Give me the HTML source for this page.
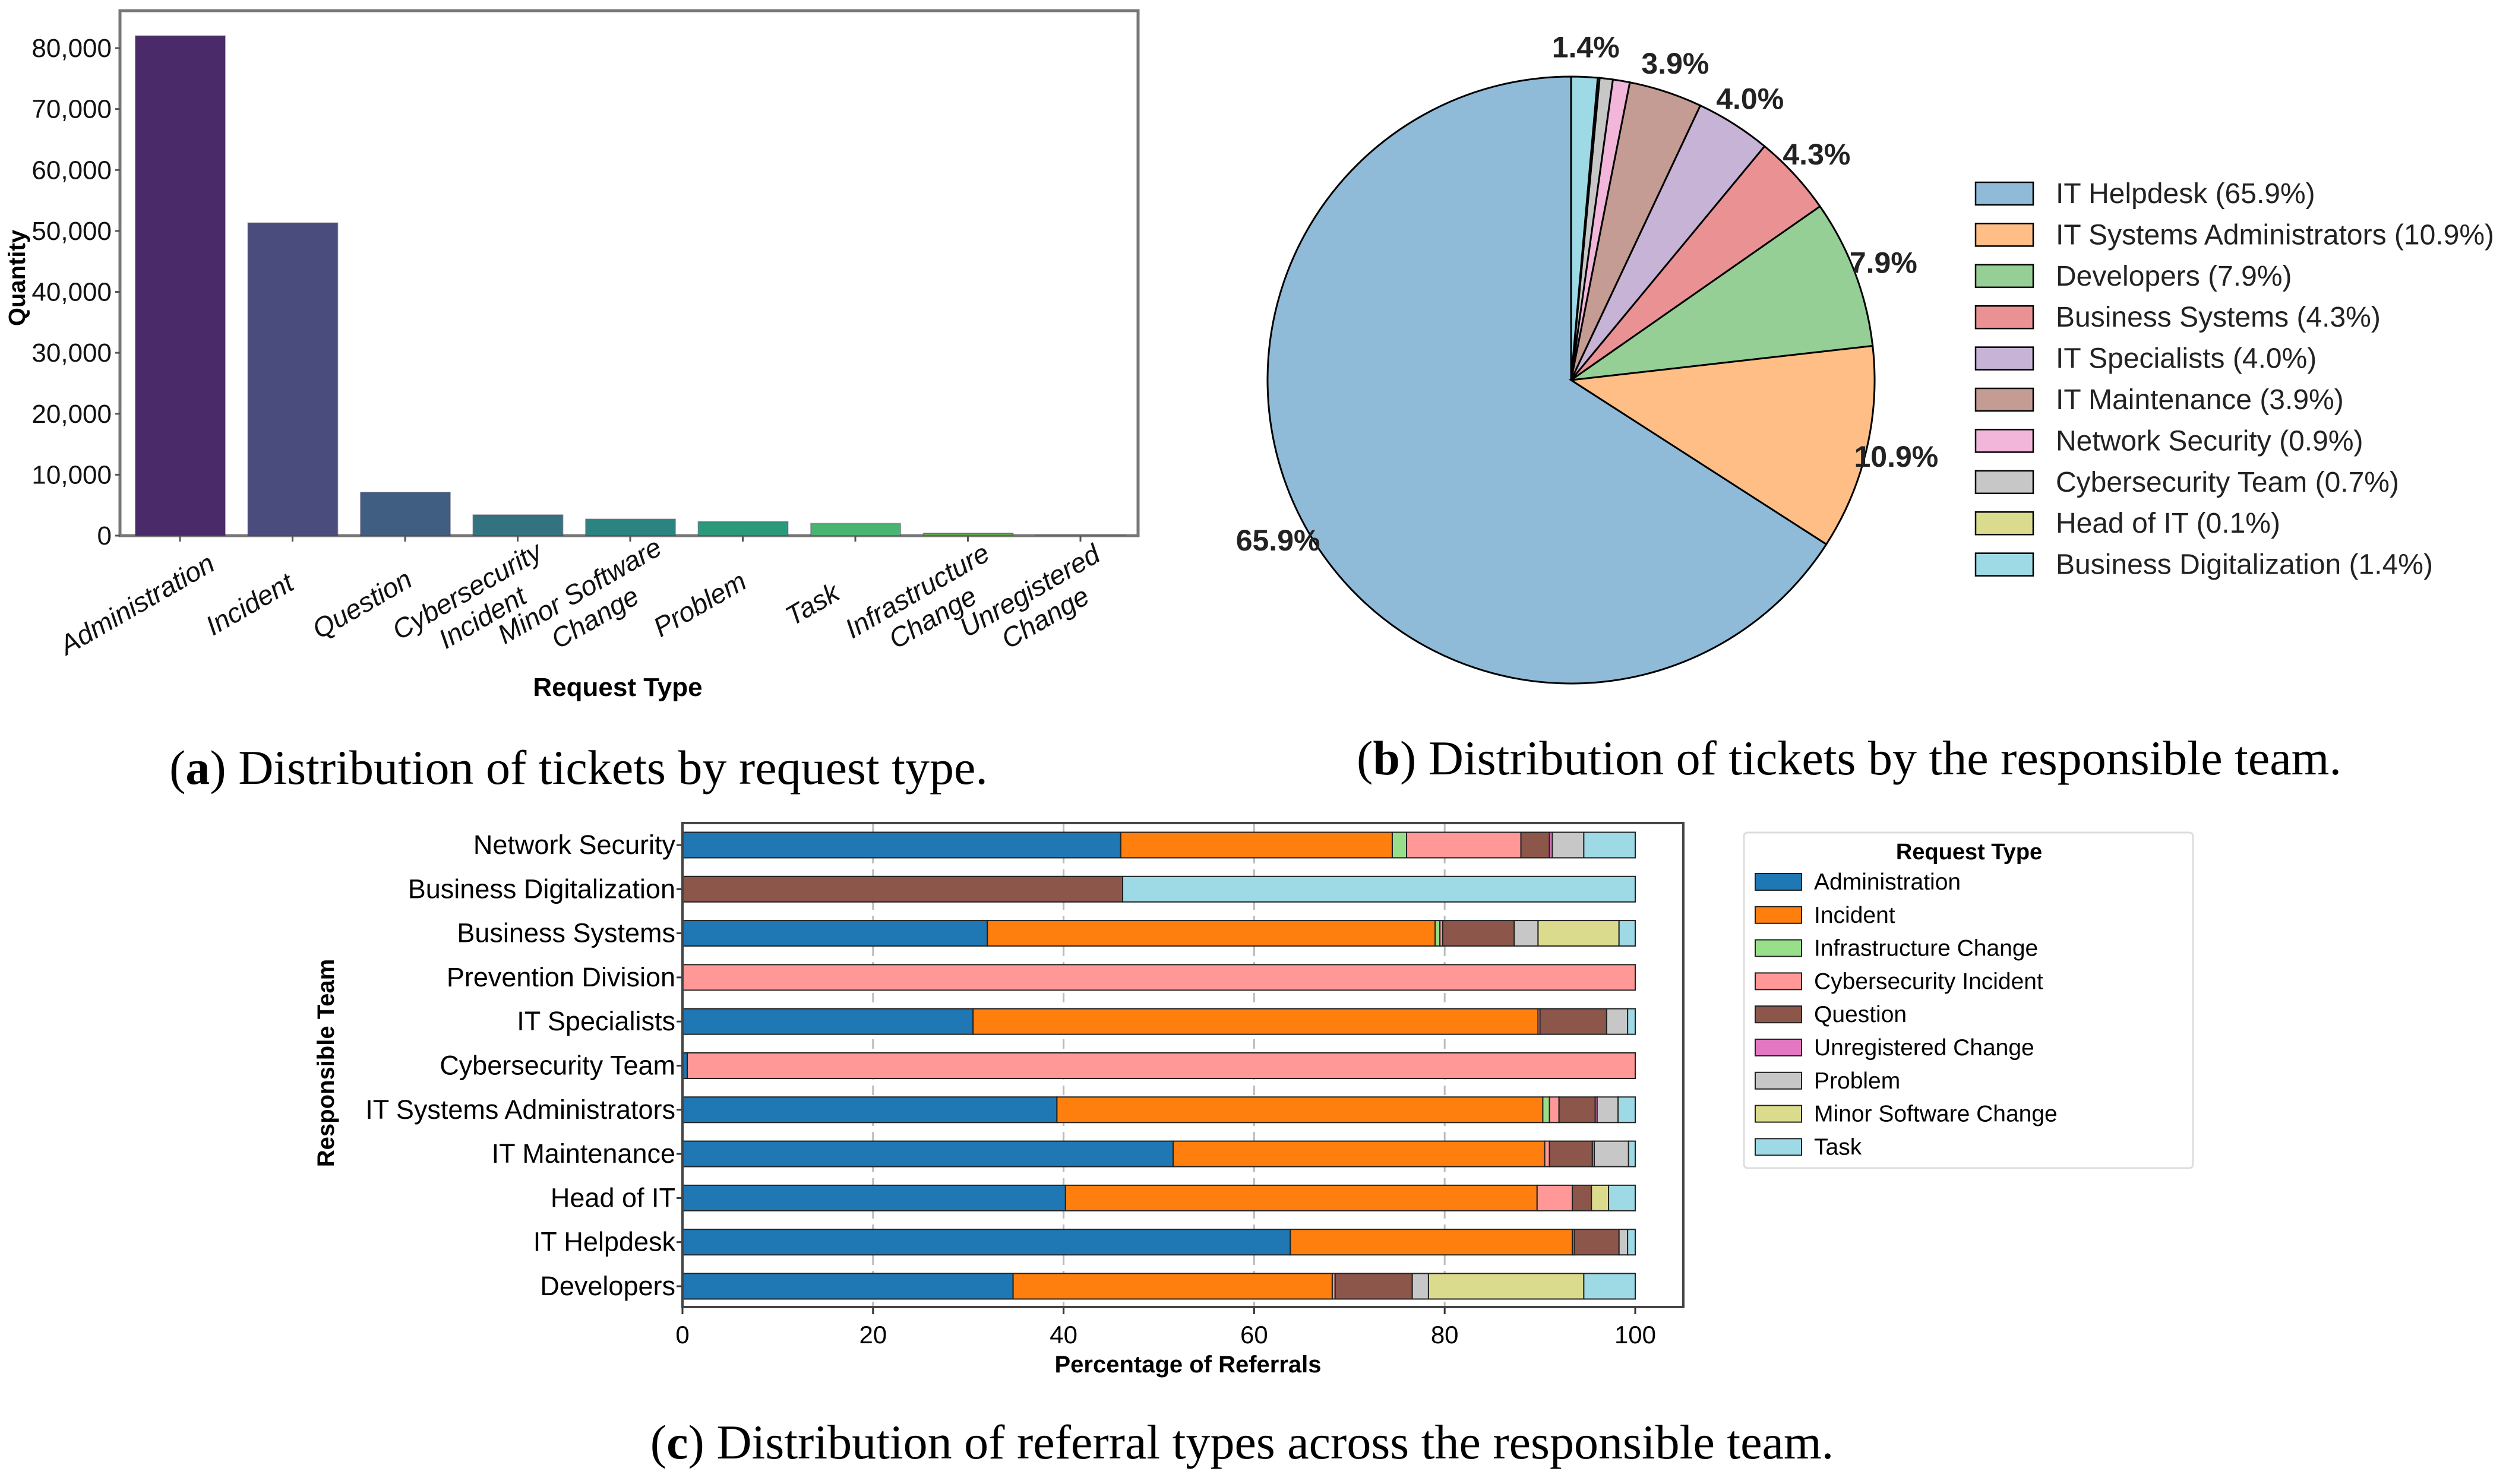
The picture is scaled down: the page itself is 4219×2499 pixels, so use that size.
<!DOCTYPE html>
<html><head><meta charset="utf-8"><style>
html,body{margin:0;padding:0;background:#fff}
svg{display:block}
.nar{font-family:"Liberation Sans Narrow","Liberation Sans",sans-serif}
.sans{font-family:"Liberation Sans",sans-serif}
.ser{font-family:"Liberation Serif",serif}
</style></head><body>
<svg id="svg" width="4219" height="2499" viewBox="0 0 4219 2499" xmlns="http://www.w3.org/2000/svg">
<g id="ga"></g>
<g id="gb"></g>
<g id="gc"></g>
<text class="ser" x="974" y="1320" font-size="82" text-anchor="middle">(<tspan font-weight="bold">a</tspan>) Distribution of tickets by request type.</text>
<text class="ser" x="3113" y="1304" font-size="82" text-anchor="middle">(<tspan font-weight="bold">b</tspan>) Distribution of tickets by the responsible team.</text>
<text class="ser" x="2091" y="2456" font-size="82" text-anchor="middle">(<tspan font-weight="bold">c</tspan>) Distribution of referral types across the responsible team.</text>
</svg>
<script>
// ---- Chart A data ----
const aCategories = [["Administration"],["Incident"],["Question"],["Cybersecurity","Incident"],["Minor Software","Change"],["Problem"],["Task"],["Infrastructure","Change"],["Unregistered","Change"]];
const aValues = [82000, 51300, 7100, 3400, 2700, 2300, 2000, 400, 50];
const aTicks = [0,10000,20000,30000,40000,50000,60000,70000,80000];
const aTickLabels = ["0","10,000","20,000","30,000","40,000","50,000","60,000","70,000","80,000"];
const aColors = ["#4a2a68","#4a4c7d","#3f5e82","#33737f","#2b8481","#2a9a7b","#49b571","#5aa83c","#7ac143"];
// ---- Chart B data ----
const bTeams = ["IT Helpdesk","IT Systems Administrators","Developers","Business Systems","IT Specialists","IT Maintenance","Network Security","Cybersecurity Team","Head of IT","Business Digitalization"];
const bShares = [65.9, 10.9, 7.9, 4.3, 4.0, 3.9, 0.9, 0.7, 0.1, 1.4];
const bColors = ["#8fbbd9","#ffbe86","#95cf95","#ea9293","#c6b3d6","#c49c94","#f1b6da","#c7c7c7","#dbdb8d","#9edae5"];
// ---- Chart C data ----
const cTeams = ["Network Security","Business Digitalization","Business Systems","Prevention Division","IT Specialists","Cybersecurity Team","IT Systems Administrators","IT Maintenance","Head of IT","IT Helpdesk","Developers"];
const cTypes = ["Administration","Incident","Infrastructure Change","Cybersecurity Incident","Question","Unregistered Change","Problem","Minor Software Change","Task"];
const cColors = ["#1f77b4","#ff7f0e","#98df8a","#ff9896","#8c564b","#e377c2","#c7c7c7","#dbdb8d","#9edae5"];
const cAdmin    = [46, 0, 32, 0, 30.5, 0.5, 39.3, 51.5, 40.2, 63.8, 34.7];
const cIncident = [28.5, 0, 47, 0, 59.3, 0, 51, 39, 49.5, 29.6, 33.5];
const cInfra    = [1.5, 0, 0.5, 0, 0, 0, 0.7, 0, 0, 0, 0];
const cCyber    = [12, 0, 0.3, 100, 0.2, 99.5, 1, 0.5, 3.7, 0.2, 0.3];
const cQuestion = [3, 46.2, 7.5, 0, 7, 0, 3.8, 4.5, 2, 4.7, 8.1];
const cUnreg    = [0.3, 0, 0, 0, 0, 0, 0.2, 0.2, 0, 0, 0];
const cProblem  = [3.3, 0, 2.5, 0, 2.2, 0, 2.2, 3.6, 0, 0.9, 1.7];
const cMinor    = [0, 0, 8.5, 0, 0, 0, 0, 0, 1.8, 0, 16.3];
const cTask     = [5.4, 53.8, 1.7, 0, 0.8, 0, 1.8, 0.7, 2.8, 0.8, 5.4];
const cTicks = [0,20,40,60,80,100];

const NS="http://www.w3.org/2000/svg";
function mk(parent,tag,attrs,text){const e=document.createElementNS(NS,tag);for(const k in attrs)e.setAttribute(k,attrs[k]);if(text!==undefined)e.textContent=text;parent.appendChild(e);return e;}

// ===== Chart A =====
(function(){
const g=document.getElementById('ga');
const L=202,R=1916,T=18,B=902;
const y=v=>B-(v/80000)*(B-81);
const x=i=>303+189.5*i;
const fr=mk(g,'rect',{x:L,y:T,width:R-L,height:B-T,fill:'none',stroke:'#777','stroke-width':5});

aTicks.forEach((t,i)=>{
 const tk=mk(g,'line',{x1:L-8,x2:L,y1:y(t),y2:y(t),stroke:'#555','stroke-width':3});
 
 const tl=mk(g,'text',{x:L-14,y:y(t)+15,'font-size':44,'text-anchor':'end',class:'nar',fill:'#111'},aTickLabels[i]);
 
});
aValues.forEach((v,i)=>{
 const r=mk(g,'rect',{x:x(i)-75,y:y(v),width:151,height:B-y(v),fill:aColors[i],stroke:'#3a3a5a','stroke-opacity':0.4,'stroke-width':2});
 
 
 const tk=mk(g,'line',{x1:x(i),x2:x(i),y1:B,y2:B+10,stroke:'#555','stroke-width':3});
 
 const cx=x(i)-72,cy=1018;
 const t=mk(g,'text',{x:cx,y:cy,'font-size':46,'text-anchor':'middle','font-style':'italic',class:'nar',fill:'#111',transform:`rotate(-30 ${cx} ${cy})`});
 
 const lines=aCategories[i];
 lines.forEach((ln,j)=>{mk(t,'tspan',{x:cx,y:cy+15+(j-(lines.length-1)/2)*52},ln);});
});
const xt=mk(g,'text',{x:1040,y:1172,'font-size':44,'font-weight':'bold','text-anchor':'middle',class:'nar'},'Request Type');

const yt=mk(g,'text',{x:42,y:468,'font-size':40,'font-weight':'bold','text-anchor':'middle',class:'sans',transform:'rotate(-90 42 468)'},'Quantity');

})();

// ===== Chart B =====
(function(){
const g=document.getElementById('gb');
const cx=2645,cy=640,r=511;
let acc=0;
bShares.forEach((s,i)=>{
 const a0=(90+acc*3.6)*Math.PI/180, a1=(90+(acc+s)*3.6)*Math.PI/180, am=(a0+a1)/2;
 const x0=cx+r*Math.cos(a0),y0=cy-r*Math.sin(a0),x1=cx+r*Math.cos(a1),y1=cy-r*Math.sin(a1);
 const large=s>50?1:0;
 const p=mk(g,'path',{d:`M${cx},${cy} L${x0},${y0} A${r},${r} 0 ${large} 0 ${x1},${y1} Z`,fill:bColors[i],stroke:'#000','stroke-width':3});
 
 
 if(s>1){
  const lx=cx+1.1*r*Math.cos(am),ly=cy-1.1*r*Math.sin(am);
  const t=mk(g,'text',{x:lx,y:ly+18,'font-size':50,'font-weight':'bold','text-anchor':'middle',class:'sans',fill:'#222'},s.toFixed(1)+'%');
  
 }
 acc+=s;
 const ly=326+69.4*i;
 const lp=mk(g,'rect',{x:3326,y:ly-19,width:97,height:38,fill:bColors[i],stroke:'#000','stroke-width':2.5});
 
 const lt=mk(g,'text',{x:3461,y:ly+16,'font-size':48,class:'sans',fill:'#222'},`${bTeams[i]} (${s.toFixed(1)}%)`);
 
});
})();

// ===== Chart C =====
(function(){
const g=document.getElementById('gc');
const L=1149,R=2834,T=1386,B=2201,X100=2753;
const x=v=>L+(v/100)*(X100-L);
const y=i=>1423+74.3*i;
const series=[cAdmin,cIncident,cInfra,cCyber,cQuestion,cUnreg,cProblem,cMinor,cTask];
cTicks.forEach(t=>{
 if(t>0&&t<100){const gl=mk(g,'line',{x1:x(t),x2:x(t),y1:T,y2:B,stroke:'#bbb','stroke-width':3,'stroke-dasharray':'16 10'});
 }
 const tk=mk(g,'line',{x1:x(t),x2:x(t),y1:B,y2:B+12,stroke:'#333','stroke-width':3});
 
 const tl=mk(g,'text',{x:x(t),y:2262,'font-size':42,'text-anchor':'middle',class:'nar'},String(t));
 
});
cTeams.forEach((team,i)=>{
 let acc=0;
 series.forEach((s,k)=>{
  const v=s[i]; if(v<=0)return;
  const r=mk(g,'rect',{x:x(acc),y:y(i)-21.5,width:x(acc+v)-x(acc),height:43,fill:cColors[k],stroke:'#222','stroke-width':2});
  
  acc+=v;
 });
 const tk=mk(g,'line',{x1:L-10,x2:L,y1:y(i),y2:y(i),stroke:'#333','stroke-width':3});
 
 const tl=mk(g,'text',{x:L-12,y:y(i)+15,'font-size':45,'text-anchor':'end',class:'nar'},team);
 
});
const fr=mk(g,'rect',{x:L,y:T,width:R-L,height:B-T,fill:'none',stroke:'#444','stroke-width':4});

const xt=mk(g,'text',{x:2000,y:2311,'font-size':40,'font-weight':'bold','text-anchor':'middle',class:'sans'},'Percentage of Referrals');

const yt=mk(g,'text',{x:562,y:1790,'font-size':40,'font-weight':'bold','text-anchor':'middle',class:'sans',transform:'rotate(-90 562 1790)'},'Responsible Team');

const lg=mk(g,'rect',{x:2936,y:1402,width:756,height:565,fill:'#fff',stroke:'#ddd','stroke-width':3,rx:6});

const ltt=mk(g,'text',{x:3315,y:1447,'font-size':38,'font-weight':'bold','text-anchor':'middle',class:'nar'},'Request Type');

cTypes.forEach((tp,k)=>{
 const ly=1485+55.8*k;
 const sw=mk(g,'rect',{x:2955,y:ly-14,width:78,height:28,fill:cColors[k],stroke:'#222','stroke-width':2});
 
 const t=mk(g,'text',{x:3054,y:ly+13,'font-size':39,class:'nar'},tp);
 
});
})();
</script>
</body></html>
